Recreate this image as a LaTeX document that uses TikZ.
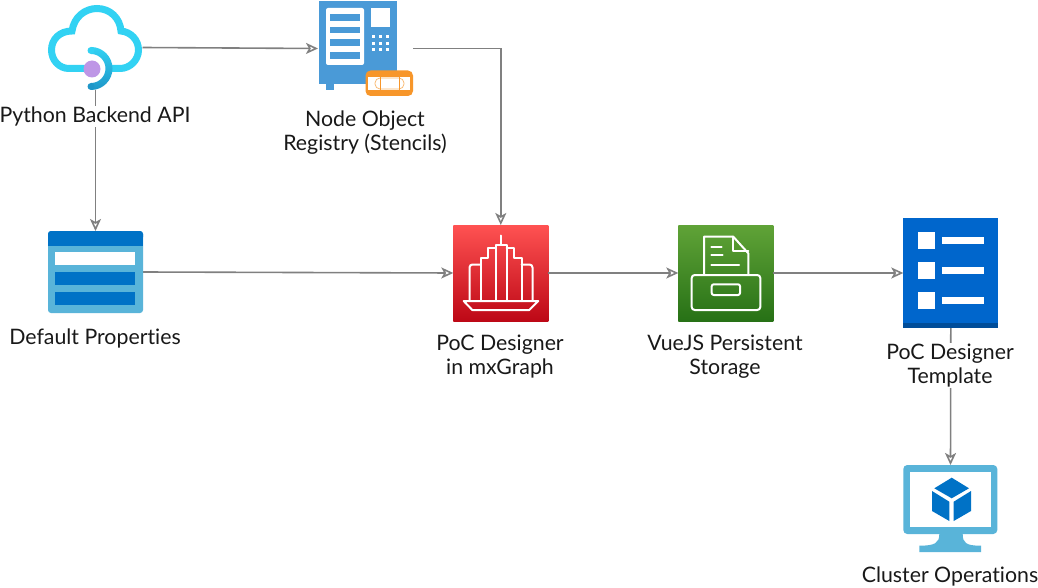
\documentclass[tikz,border=0pt]{standalone}
\usepackage{fontspec}
\setmainfont{Lato}[Ligatures=NoCommon]
\usetikzlibrary{arrows.meta, positioning}
\definecolor{fleche}{RGB}{128,128,128}
\definecolor{nuage}{RGB}{50,210,243}
\definecolor{nuagebas}{RGB}{30,150,200}
\definecolor{violet}{RGB}{190,150,230}
\definecolor{registre}{RGB}{74,154,215}
\definecolor{orange}{RGB}{247,150,42}
\definecolor{azurclair}{RGB}{89,180,217}
\definecolor{azur}{RGB}{0,114,198}
\definecolor{rougehaut}{RGB}{255,82,82}
\definecolor{rougebas}{RGB}{189,8,22}
\definecolor{verthaut}{RGB}{96,163,55}
\definecolor{vertbas}{RGB}{39,113,22}
\definecolor{bleuliste}{RGB}{0,102,204}
\definecolor{bleusombre}{RGB}{0,77,153}
\definecolor{texte}{RGB}{25,25,25}
\tikzset{
  iconbox/.style={inner sep=0pt, outer sep=0pt},
  flow/.style={-{Stealth[open, length=12pt, width=11pt, inset=3pt]}, fleche, line width=1.6pt},
  caption/.style={fill=white, inner sep=1pt, align=center, text=texte,
                  font=\fontsize{21.3}{24}\selectfont},
  trace/.style={white, line width=2pt, line join=round, line cap=round}
}
\begin{document}
\begin{tikzpicture}[x=1pt, y=-1pt]
    \fill[white] (0,0) rectangle (1038,588);
    \useasboundingbox (0,0) rectangle (1038,588);

    % Noeuds des icones
    \node[iconbox, minimum width=94pt, minimum height=85pt] (cloud) at (95.5,47.5) {};
    \node[iconbox, minimum width=95pt, minimum height=95pt] (registry) at (365.5,48.5) {};
    \node[iconbox, minimum width=95pt, minimum height=82pt] (props) at (95.5,272) {};
    \node[iconbox, minimum width=95pt, minimum height=96pt, top color=rougehaut,
          bottom color=rougebas] (designer) at (500.8,273) {};
    \node[iconbox, minimum width=95pt, minimum height=96pt, top color=verthaut,
          bottom color=vertbas] (storage) at (725.8,273) {};
    \node[iconbox, minimum width=95pt, minimum height=110pt, fill=bleuliste] (template) at (950.8,273) {};
    \node[iconbox, minimum width=95pt, minimum height=87pt] (cluster) at (950.5,508.5) {};

    % Liaisons
    \draw[flow] (cloud.east) -- (registry.west);
    \draw[flow] (registry.east) -| (designer.north);
    \draw[flow] (cloud.south) -- (props.north);
    \draw[flow] (props.east) -- (designer.west);
    \draw[flow] (designer.east) -- (storage.west);
    \draw[flow] (storage.east) -- (template.west);
    \draw[flow] (template.south) -- (cluster.north);

    % Nuage
    \draw[nuage, line width=7pt]
      (86,68.5) -- (69,68.5) .. controls (59,68.5) and (51.5,60) .. (51.5,50)
      .. controls (51.5,39) and (60,31) .. (72,31)
      .. controls (74,17) and (85,8.5) .. (97,8.5)
      .. controls (110,8.5) and (120,18) .. (121,31)
      .. controls (131,32) and (138.5,40) .. (138.5,50)
      .. controls (138.5,60) and (130,68.5) .. (120,68.5) -- (111,68.5);
    \shade[top color=nuage, bottom color=nuagebas]
      (91,47) arc[start angle=-90, end angle=90, radius=21.5]
      -- (91,83) arc[start angle=90, end angle=-90, radius=14.5] -- cycle;
    \fill[nuage] (91,50.5) circle (3.5);
    \fill[nuagebas] (91,86.5) circle (3.5);
    \fill[violet] (92,69) circle (8.5);

    % Registre
    \fill[registre] (319,1) rectangle (397,84);
    \fill[registre] (326,84) rectangle (334,90);
    \fill[white, rounded corners=2pt] (326,8) rectangle (364,65);
    \foreach \y in {14,26.7,39.3,52.3} {
      \fill[registre] (330,\y) rectangle (360,\y+6.7);
    }
    \fill[white] (371,8) rectangle (390,27);
    \foreach \x in {373,380,387} {
      \foreach \y in {36.7,43.2,49.7} {
        \fill[white] (\x-1.5,\y-1.5) rectangle (\x+1.5,\y+1.5);
      }
    }
    \fill[orange, rounded corners=5pt] (365.5,70.5) rectangle (413,96);
    \fill[white] (368,77) rectangle (410,90);
    \draw[orange!70, line width=0.7pt, rounded corners=5pt] (375,78) rectangle (404,89);
    \draw[orange, line width=0.7pt] (380.5,77) -- (380.5,90) (399,77) -- (399,90);

    % Proprietes
    \fill[azurclair, rounded corners=3pt] (48,231) rectangle (143,313);
    \fill[azur, rounded corners=3pt] (48,231) rectangle (143,240);
    \fill[azur] (48,236) rectangle (143,246);
    \fill[white] (55,252) rectangle (135,265);
    \fill[azur] (55,272) rectangle (135,285);
    \fill[azur] (55,292) rectangle (135,305);

    % Designer
    \draw[trace] (463.7,301) -- (538.3,301) -- (529.3,310) -- (472.3,310) -- cycle;
    \draw[trace, rounded corners=3pt] (469.5,301) -- (469.5,264.5) -- (480.5,264.5);
    \draw[trace, rounded corners=3pt] (532.5,301) -- (532.5,264.5) -- (521.5,264.5);
    \draw[trace] (480.5,301) -- (480.5,257.5) -- (488,257.5) -- (488,248) -- (495.5,248);
    \draw[trace] (521.5,301) -- (521.5,257.5) -- (514,257.5) -- (514,248) -- (506.5,248);
    \draw[trace] (495.5,301) -- (495.5,244.5) -- (506.5,244.5) -- (506.5,301);
    \draw[trace] (501,235.5) -- (501,244.5);

    % Stockage
    \draw[trace] (704,274.5) -- (704,236.7) -- (733.3,236.7) -- (748.3,253.3) -- (748.3,274.5);
    \draw[trace] (733.3,236.7) -- (733.3,251) -- (748.3,251);
    \draw[trace] (711.3,247) -- (721.7,247);
    \draw[trace] (711.3,255) -- (722.5,255);
    \draw[trace] (711.3,264.7) -- (739,264.7);
    \draw[trace, rounded corners=3pt] (691.7,275) -- (760.3,275) -- (760.3,310) -- (691.7,310) -- cycle;
    \draw[trace, rounded corners=2pt] (711.7,284.3) rectangle (740,295);

    % Liste du modele
    \fill[bleusombre] (903.3,323.3) rectangle (998.3,328);
    \foreach \y in {232.3,262.3,292} {
      \fill[white] (918.3,\y) rectangle (935,\y+16.7);
      \fill[white] (942,\y+4.7) rectangle (983.7,\y+12);
    }

    % Ecran et cube
    \fill[azurclair, rounded corners=4pt] (903.3,465) rectangle (997.3,534);
    \fill[white] (910,471.7) rectangle (990.7,526.7);
    \fill[azurclair] (939.3,534) .. controls (939.3,543) and (935,545.7) .. (919.3,545.7)
      -- (919.3,552) -- (981,552) -- (981,545.7)
      .. controls (966,545.7) and (962.7,543) .. (962.7,534) -- cycle;
    \fill[azur] (951.7,477.7) -- (969,488.3) -- (951.7,498.3) -- (934.3,488.3) -- cycle;
    \fill[azur] (932,491) -- (949.3,501.7) -- (949.3,521) -- (932,511) -- cycle;
    \fill[azur] (953.7,501.7) -- (971,491) -- (971,511) -- (953.7,521) -- cycle;

    % Libelles
    \node[caption] (cloudlabel) at (95,116.5) {Python Backend API};
    \node[caption] (registrylabel) at (365,132.5) {Node Object\\Registry (Stencils)};
    \node[caption] (propslabel) at (95,338.5) {Default Properties};
    \node[caption] (designerlabel) at (500,356.5) {PoC Designer\\in mxGraph};
    \node[caption] (storagelabel) at (725,356.5) {VueJS Persistent\\Storage};
    \node[caption] (templatelabel) at (950,365.5) {PoC Designer\\Template};
    \node[caption] (clusterlabel) at (950,576.5) {Cluster Operations};

\end{tikzpicture}
\end{document}
